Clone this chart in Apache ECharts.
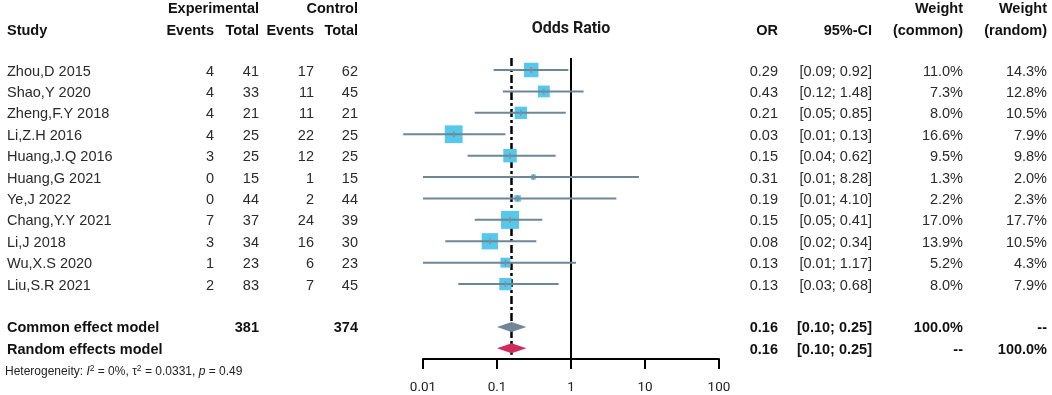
<!DOCTYPE html>
<html>
<head>
<meta charset="utf-8">
<title>Forest plot</title>
<script src="https://cdn.jsdelivr.net/npm/echarts@6/dist/echarts.min.js"></script>
<style>
  html, body { margin: 0; padding: 0; background: #fff; }
  #chart { width: 1052px; height: 395px; }
</style>
</head>
<body>
<div id="chart"></div>
<script>
// study table
const studies = ['Zhou,D 2015', 'Shao,Y 2020', 'Zheng,F.Y 2018', 'Li,Z.H 2016', 'Huang,J.Q 2016', 'Huang,G 2021',
  'Ye,J 2022', 'Chang,Y.Y 2021', 'Li,J 2018', 'Wu,X.S 2020', 'Liu,S.R 2021']
const expEvents = [4, 4, 4, 4, 3, 0, 0, 7, 3, 1, 2]
const expTotal = [41, 33, 21, 25, 25, 15, 44, 37, 34, 23, 83]
const ctrlEvents = [17, 11, 11, 22, 12, 1, 2, 24, 16, 6, 7]
const ctrlTotal = [62, 45, 21, 25, 25, 15, 44, 39, 30, 23, 45]
const oddsRatio = [0.29, 0.43, 0.21, 0.026, 0.15, 0.31, 0.19, 0.15, 0.08, 0.13, 0.13]
const ciLower = [0.09, 0.12, 0.05, 0.0054, 0.04, 0.01, 0.01, 0.05, 0.02, 0.01, 0.03]
const ciUpper = [0.92, 1.48, 0.85, 0.13, 0.62, 8.28, 4.10, 0.41, 0.34, 1.17, 0.68]
const weightCommon = [11.0, 7.3, 8.0, 16.6, 9.5, 1.3, 2.2, 17.0, 13.9, 5.2, 8.0]
const weightRandom = [14.3, 12.8, 10.5, 7.9, 9.8, 2.0, 2.3, 17.7, 10.5, 4.3, 7.9]

// pooled models
const modelNames = ['Common effect model', 'Random effects model']
const modelOR = [0.157, 0.157]
const modelLower = [0.10, 0.10]
const modelUpper = [0.25, 0.25]
const modelWeightCommon = ['100.0%', '--']
const modelWeightRandom = ['--', '100.0%']
const totalExp = 381
const totalCtrl = 374

const xTicks = [0.01, 0.1, 1, 10, 100]

// column right edges
const col = { name: 7, expEv: 214, expTot: 259, ctlEv: 314, ctlTot: 358, or: 778, ci: 872, wc: 963, wr: 1047 }
const FONT = '"Liberation Sans", Arial, sans-serif'
const FS = 14.5
const TXT_DY = 1.5

function txt(text, x, y, align, bold, color) {
  return {
    type: 'text',
    style: {
      text: String(text), x: x, y: y + TXT_DY,
      align: align, verticalAlign: 'middle',
      fontFamily: FONT, fontSize: FS, fontWeight: bold ? 'bold' : 'normal',
      fill: color || (bold ? '#111' : '#2a2a2a')
    }
  }
}

const chart = echarts.init(document.getElementById('chart'))

const studyData = studies.map((s, i) => [oddsRatio[i], i, ciLower[i], ciUpper[i], weightCommon[i]])
const modelData = modelNames.map((m, i) => [modelOR[i], 12 + i, modelLower[i], modelUpper[i]])

const option = {
  animation: false,
  grid: { left: 423, right: 333, top: 5.8, bottom: 34.3 },
  xAxis: {
    type: 'log',
    logBase: 10,
    min: 0.01,
    max: 100,
    axisLine: { show: true, onZero: false, lineStyle: { color: '#000', width: 2 } },
    axisTick: { show: true, length: 10, lineStyle: { color: '#000', width: 2 } },
    axisLabel: {
      margin: 22,
      color: '#222',
      fontFamily: 'Roboto',
      fontSize: 13.5,
      formatter: v => {
        const t = xTicks.find(k => Math.abs(Math.log10(k) - Math.log10(v)) < 1e-6)
        return t !== undefined ? String(t) : ''
      }
    },
    splitLine: { show: false }
  },
  yAxis: {
    type: 'value',
    inverse: true,
    min: -3,
    max: 13.5,
    show: false
  },
  graphic: [
    txt('Experimental', col.expTot, 7, 'right', true),
    txt('Control', col.ctlTot, 7, 'right', true),
    txt('Weight', col.wc, 7, 'right', true),
    txt('Weight', col.wr, 7, 'right', true),
    txt('Study', col.name, 29, 'left', true),
    txt('Events', col.expEv, 29, 'right', true),
    txt('Total', col.expTot, 29, 'right', true),
    txt('Events', col.ctlEv, 29, 'right', true),
    txt('Total', col.ctlTot, 29, 'right', true),
    txt('OR', col.or, 29, 'right', true),
    txt('95%-CI', col.ci, 29, 'right', true),
    txt('(common)', col.wc, 29, 'right', true),
    txt('(random)', col.wr, 29, 'right', true),
    {
      type: 'text',
      style: {
        text: 'Odds Ratio', x: 571, y: 29, align: 'center', verticalAlign: 'middle',
        fontFamily: 'Roboto', fontSize: 16, fontWeight: 'bold', fill: '#1a1a1a'
      }
    },
    {
      type: 'text',
      style: {
        text: '{n|Heterogeneity: }{i|I}{s|2}{n| = 0%, τ}{s|2}{n| = 0.0331, }{i|p}{n| = 0.49}',
        x: 5, y: 372, verticalAlign: 'middle',
        rich: {
          n: { fontFamily: FONT, fontSize: 12, fill: '#222' },
          i: { fontFamily: FONT, fontSize: 12, fontStyle: 'italic', fill: '#222' },
          s: { fontFamily: FONT, fontSize: 8.5, fill: '#222', verticalAlign: 'top', padding: [0, 0, 7, 0] }
        }
      }
    }
  ],
  series: [
    {
      // reference lines: no effect (solid) and pooled estimate (dashed)
      type: 'custom',
      silent: true,
      data: [[1, -0.56, 13.5], [modelOR[0], -0.56, 13.3]],
      renderItem: (params, api) => {
        const a = api.coord([api.value(0), api.value(1)])
        const b = api.coord([api.value(0), api.value(2)])
        const dashed = params.dataIndex === 1
        return {
          type: 'line',
          shape: { x1: a[0], y1: a[1], x2: b[0], y2: b[1] },
          style: { stroke: '#000', lineWidth: dashed ? 2.5 : 2, lineDash: dashed ? [8, 3, 3, 3] : null }
        }
      },
      z: 1
    },
    {
      type: 'custom',
      silent: true,
      data: studyData,
      renderItem: (params, api) => {
        const i = params.dataIndex
        const c = api.coord([api.value(0), api.value(1)])
        const lo = api.coord([api.value(2), api.value(1)])
        const hi = api.coord([api.value(3), api.value(1)])
        const side = 18 * Math.sqrt(api.value(4) / 17)
        const y = c[1]
        return {
          type: 'group',
          children: [
            { type: 'rect', shape: { x: c[0] - side / 2, y: y - side / 2, width: side, height: side }, style: { fill: '#55C8EB' } },
            { type: 'line', shape: { x1: lo[0], y1: y, x2: hi[0], y2: y }, style: { stroke: '#6D8799', lineWidth: 2 } },
            { type: 'line', shape: { x1: c[0], y1: y - 3, x2: c[0], y2: y + 3 }, style: { stroke: '#888E96', lineWidth: 1.5 } },
            txt(studies[i], col.name, y, 'left', false),
            txt(expEvents[i], col.expEv, y, 'right', false),
            txt(expTotal[i], col.expTot, y, 'right', false),
            txt(ctrlEvents[i], col.ctlEv, y, 'right', false),
            txt(ctrlTotal[i], col.ctlTot, y, 'right', false),
            txt(oddsRatio[i].toFixed(2), col.or, y, 'right', false),
            txt('[' + ciLower[i].toFixed(2) + '; ' + ciUpper[i].toFixed(2) + ']', col.ci, y, 'right', false),
            txt(weightCommon[i].toFixed(1) + '%', col.wc, y, 'right', false),
            txt(weightRandom[i].toFixed(1) + '%', col.wr, y, 'right', false)
          ]
        }
      },
      z: 2
    },
    {
      type: 'custom',
      silent: true,
      data: modelData,
      renderItem: (params, api) => {
        const i = params.dataIndex
        const c = api.coord([api.value(0), api.value(1)])
        const lo = api.coord([api.value(2), api.value(1)])
        const hi = api.coord([api.value(3), api.value(1)])
        const y = c[1]
        const h = 5
        const children = [
          {
            type: 'polygon',
            shape: { points: [[lo[0], y], [c[0], y - h], [hi[0], y], [c[0], y + h]] },
            style: { fill: i === 0 ? '#6F8799' : '#D22A5C' }
          },
          txt(modelNames[i], col.name, y, 'left', true),
          txt(modelOR[i].toFixed(2), col.or, y, 'right', true),
          txt('[' + modelLower[i].toFixed(2) + '; ' + modelUpper[i].toFixed(2) + ']', col.ci, y, 'right', true),
          txt(modelWeightCommon[i], col.wc, y, 'right', true),
          txt(modelWeightRandom[i], col.wr, y, 'right', true)
        ]
        if (i === 0) {
          children.push(txt(totalExp, col.expTot, y, 'right', true))
          children.push(txt(totalCtrl, col.ctlTot, y, 'right', true))
        }
        return { type: 'group', children: children }
      },
      z: 3
    }
  ]
}

chart.setOption(option)
</script>
</body>
</html>
